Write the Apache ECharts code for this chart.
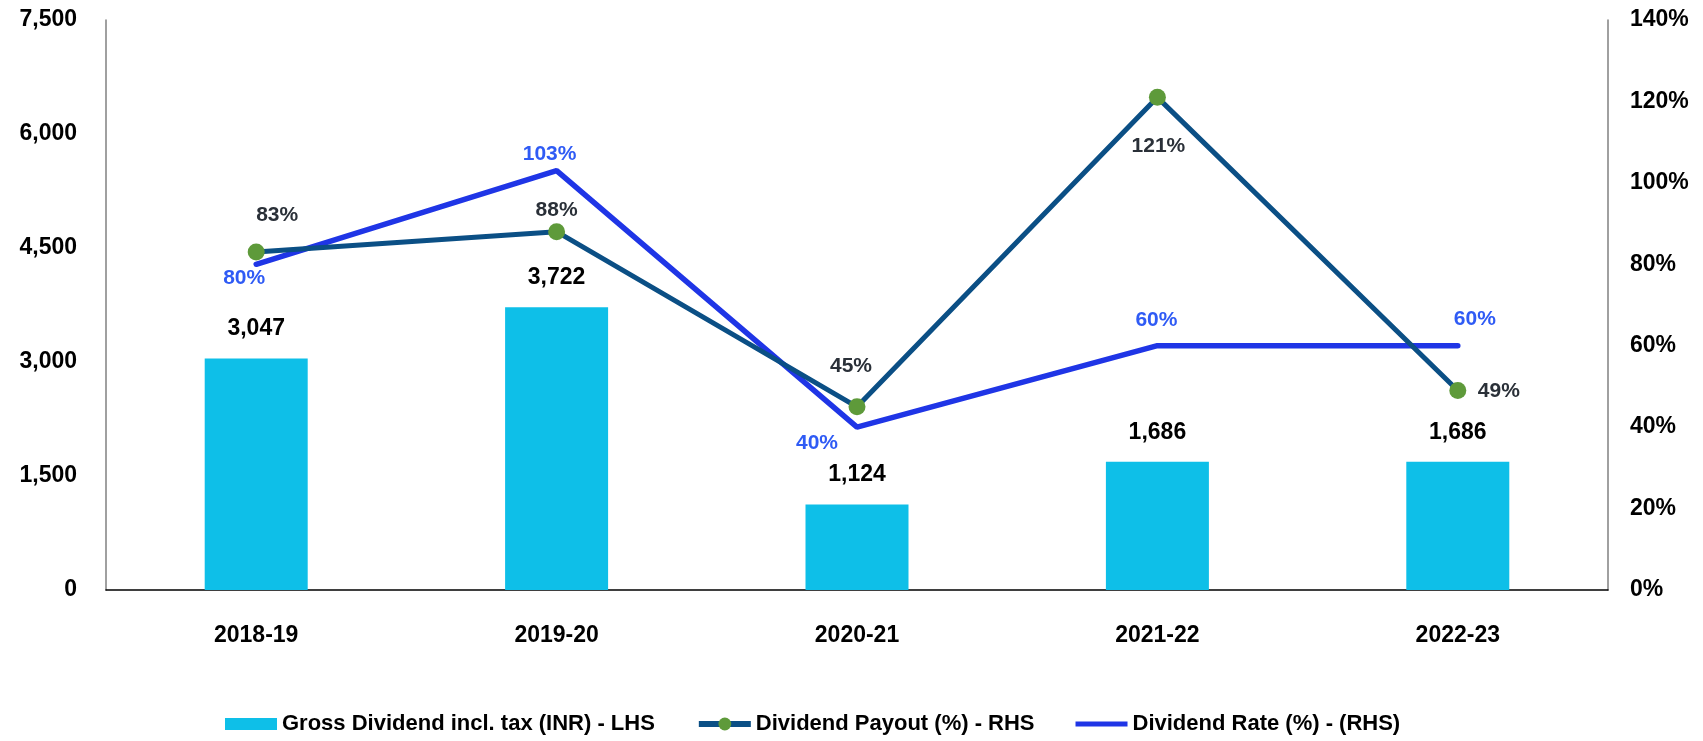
<!DOCTYPE html>
<html>
<head>
<meta charset="utf-8">
<script src="https://cdn.jsdelivr.net/npm/echarts@6/dist/echarts.min.js"></script>
<style>
html, body { margin: 0; padding: 0; background: #fff; }
#chart { width: 1703px; height: 741px; }
</style>
</head>
<body>
<div id="chart"></div>
<script>
var years = ['2018-19', '2019-20', '2020-21', '2021-22', '2022-23'];
var grossDividend = [3047, 3722, 1124, 1686, 1686];   // INR, LHS
var payout = [83, 88, 45, 121, 49];                   // %, RHS
var rate = [80, 103, 40, 60, 60];                     // %, RHS

// label offsets
var payoutOffsets = [[21, -37], [0, -22], [-6, -41], [1, 49], [41, 1]];
var rateOffsets = [[-12, 14], [-7, -16], [-40, 16], [-1, -26], [17, -27]];

var font = 'Liberation Sans, Arial, sans-serif';

function pctItems(vals, offs) {
	var out = [];
	for (var i = 0; i < vals.length; i++) {
		out.push({ value: vals[i], label: { offset: offs[i] } });
	}
	return out;
}

var myChart = echarts.init(document.getElementById('chart'));

var option = {
	animation: false,
	textStyle: { fontFamily: font },
	grid: { left: 106, right: 95, top: 20, bottom: 151 },
	legend: {
		left: 220,
		top: 708,
		itemWidth: 52,
		itemHeight: 16,
		itemGap: 41,
		textStyle: { fontFamily: font, fontSize: 22, fontWeight: 'bold', color: '#000' },
		data: [
			{ name: 'Gross Dividend incl. tax (INR) - LHS', icon: 'path://M0,0 L52,0 L52,12 L0,12 Z' },
			{ name: 'Dividend Payout (%) - RHS', lineStyle: { width: 6 } },
			{ name: 'Dividend Rate (%) - (RHS)', icon: 'path://M0,0 L52,0 L52,5 L0,5 Z' }
		]
	},
	xAxis: {
		type: 'category',
		data: years,
		axisLine: { lineStyle: { color: '#000', width: 1.5 } },
		axisTick: { show: false },
		axisLabel: { margin: 34, fontSize: 23, fontWeight: 'bold', color: '#000' }
	},
	yAxis: [
		{
			type: 'value',
			min: 0, max: 7500, interval: 1500,
			axisLine: { show: true, lineStyle: { color: '#808080', width: 1.5 } },
			splitLine: { show: false },
			axisLabel: {
				margin: 29, fontSize: 23, fontWeight: 'bold', color: '#000',
				formatter: function (v) { return v.toLocaleString('en-US'); }
			}
		},
		{
			type: 'value',
			min: 0, max: 140, interval: 20,
			axisLine: { show: true, lineStyle: { color: '#808080', width: 1.5 } },
			splitLine: { show: false },
			axisLabel: { margin: 22, fontSize: 23, fontWeight: 'bold', color: '#000', formatter: '{value}%' }
		}
	],
	series: [
		{
			name: 'Gross Dividend incl. tax (INR) - LHS',
			type: 'bar',
			data: grossDividend,
			barWidth: 103,
			itemStyle: { color: '#0EBFE8' },
			label: {
				show: true, position: 'top', distance: 18,
				fontSize: 23, fontWeight: 'bold', color: '#000',
				formatter: function (p) { return p.value.toLocaleString('en-US'); }
			}
		},
		{
			name: 'Dividend Rate (%) - (RHS)',
			type: 'line',
			yAxisIndex: 1,
			data: pctItems(rate, rateOffsets),
			symbol: 'circle',
			symbolSize: 1,
			lineStyle: { color: '#1F35E6', width: 5.5, cap: 'round' },
			itemStyle: { color: '#1F35E6' },
			label: {
				show: true, position: 'inside',
				fontSize: 21, fontWeight: 'bold', color: '#2F5BF5',
				formatter: '{c}%'
			},
			z: 3
		},
		{
			name: 'Dividend Payout (%) - RHS',
			type: 'line',
			yAxisIndex: 1,
			data: pctItems(payout, payoutOffsets),
			symbol: 'circle',
			symbolSize: 17,
			lineStyle: { color: '#0B4F85', width: 5 },
			itemStyle: { color: '#5E9A3A', borderWidth: 0 },
			label: {
				show: true, position: 'inside',
				fontSize: 21, fontWeight: 'bold', color: '#2A3038',
				formatter: '{c}%'
			},
			z: 4
		}
	]
};
myChart.setOption(option);
</script>
</body>
</html>
